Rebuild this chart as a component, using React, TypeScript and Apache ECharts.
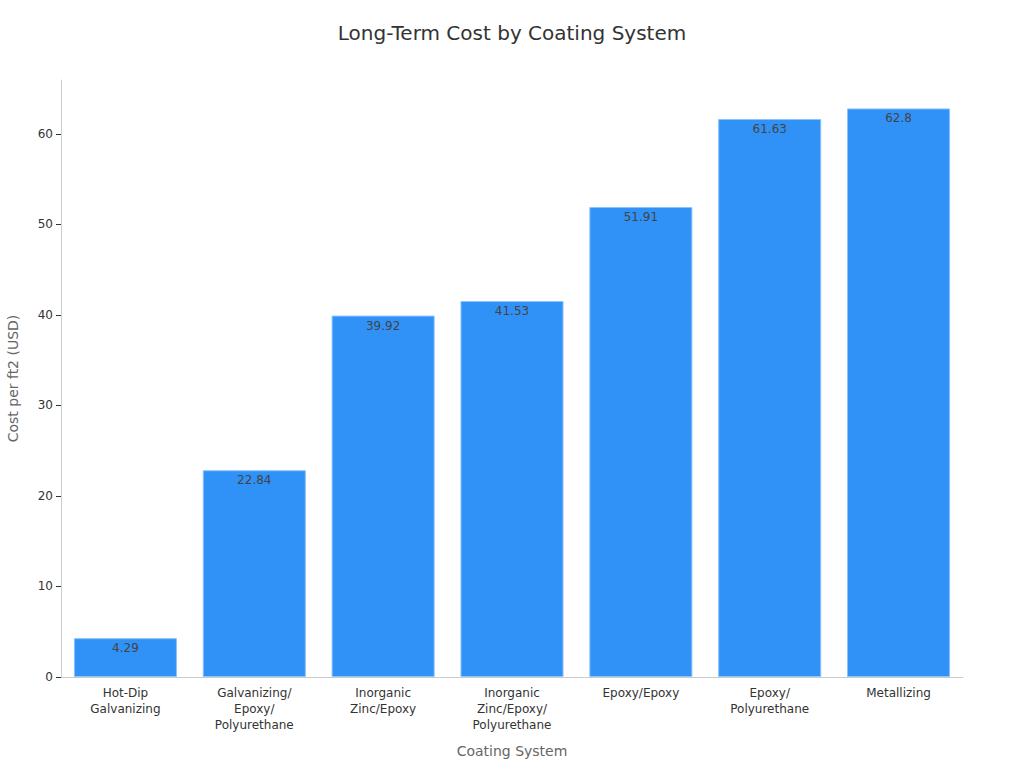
import React, { useEffect, useRef } from "react";
import * as echarts from "echarts";

const categories = [
  "Hot-Dip\nGalvanizing",
  "Galvanizing/\nEpoxy/\nPolyurethane",
  "Inorganic\nZinc/Epoxy",
  "Inorganic\nZinc/Epoxy/\nPolyurethane",
  "Epoxy/Epoxy",
  "Epoxy/\nPolyurethane",
  "Metallizing",
];
const costs = [4.29, 22.84, 39.92, 41.53, 51.91, 61.63, 62.8];
const yTicks = [0, 10, 20, 30, 40, 50, 60];

export default function App() {
  const ref = useRef<HTMLDivElement>(null);
  useEffect(() => {
    if (!ref.current) return;
    const chart = echarts.init(ref.current, undefined, { renderer: "svg" });
    const font = "DejaVu Sans";
    chart.setOption({
      animation: false,
      textStyle: { fontFamily: font },
      title: {
        text: "Long-Term Cost by Coating System",
        left: "center",
        top: 18,
        textStyle: { fontFamily: font, fontSize: 20, fontWeight: "normal", color: "#333" },
      },
      grid: { left: 61, right: 61, top: 80, bottom: 91, containLabel: false, outerBoundsMode: "none" },
      xAxis: {
        type: "category",
        data: categories,
        name: "Coating System",
        nameLocation: "middle",
        nameGap: 67,
        nameTextStyle: { fontFamily: font, fontSize: 14, color: "#666" },
        axisLine: { lineStyle: { color: "#ccc" } },
        axisTick: { alignWithLabel: true, lineStyle: { color: "#333" } },
        axisLabel: { fontFamily: font, fontSize: 12, color: "#333", interval: 0, margin: 8, lineHeight: 16 },
      },
      yAxis: {
        type: "value",
        min: 0,
        max: 65.94,
        interval: 10,
        name: "Cost per ft2 (USD)",
        nameLocation: "middle",
        nameGap: 41,
        nameTextStyle: { fontFamily: font, fontSize: 14, color: "#666" },
        axisLine: { show: true, lineStyle: { color: "#ccc" } },
        axisTick: { show: true, customValues: yTicks, lineStyle: { color: "#333" } },
        axisLabel: { fontFamily: font, fontSize: 12, color: "#333", customValues: yTicks },
        splitLine: { show: false },
      },
      series: [
        {
          type: "bar",
          data: costs,
          barWidth: "80%",
          itemStyle: { color: "#3092F7", borderColor: "#8cc4fb", borderWidth: 1 },
          label: {
            show: true,
            position: "insideTop",
            fontFamily: font,
            fontSize: 12,
            color: "#444",
            distance: 4,
          },
        },
      ],
    });
    return () => chart.dispose();
  }, []);
  return <div ref={ref} style={{ position: "absolute", left: 0, top: 0, width: 1024, height: 768 }} />;
}
